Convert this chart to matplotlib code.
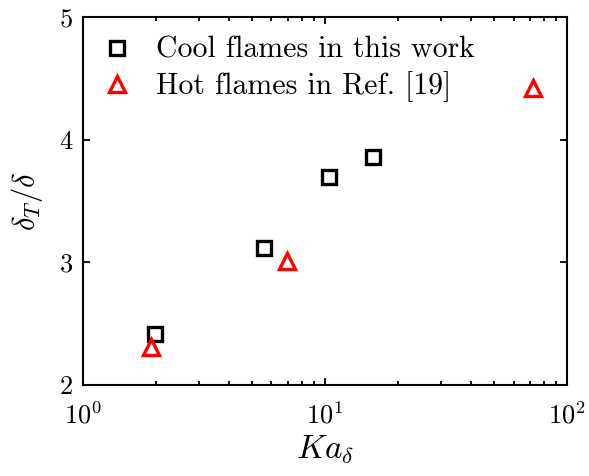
import numpy as np
import matplotlib.pyplot as plt

plt.rcParams['font.family'] = 'serif'
plt.rcParams['font.serif'] = ['cmr10']
plt.rcParams['mathtext.fontset'] = 'cm'
plt.rcParams['axes.formatter.use_mathtext'] = True

# Karlovitz number vs. thickness ratio
ka_cool = [1.98, 5.6, 10.4, 15.8]
ratio_cool = [2.415, 3.12, 3.70, 3.86]

ka_hot = [1.90, 6.97, 72.4]
ratio_hot = [2.31, 3.01, 4.42]

fig = plt.figure(figsize=(5.89, 4.76), dpi=100)
ax = fig.add_axes([0.141, 0.191, 0.822, 0.773])

ax.plot(ka_cool, ratio_cool, 's', ms=10, mew=2.4, mfc='none', mec='black',
        label='Cool flames in this work')
ax.plot(ka_hot, ratio_hot, '^', ms=11, mew=2.4, mfc='none', mec='red',
        label='Hot flames in Ref. [19]')

ax.set_xscale('log')
ax.set_xlim(1, 100)
ax.set_ylim(2, 5)
ax.set_yticks([2, 3, 4, 5])

ax.tick_params(which='both', direction='in', top=True, right=True, labelsize=19, width=1.3)
ax.tick_params(which='major', length=5)
ax.tick_params(which='minor', length=3)
ax.tick_params(axis='x', pad=12)
ax.tick_params(axis='y', pad=7)
for s in ax.spines.values():
    s.set_linewidth(1.5)

ax.set_xlabel(r'$Ka_\delta$', fontsize=24, labelpad=3)
ax.set_ylabel(r'$\delta_T/\delta$', fontsize=22, labelpad=10)

ax.legend(loc='upper left', frameon=False, fontsize=21.5, handletextpad=0.8,
          borderaxespad=0.25, labelspacing=0.25, handlelength=1.0)

fig.savefig('out.png', dpi=100)
